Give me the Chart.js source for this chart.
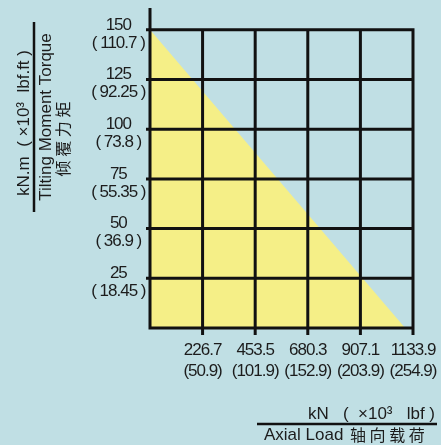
<!DOCTYPE html>
<html>
<head>
<meta charset="utf-8">
<script src="https://cdn.jsdelivr.net/npm/chart.js@4"></script>
<style>
  html, body { margin: 0; padding: 0; background: #c0dfe4; }
  #wrap { width: 441px; height: 445px; }
</style>
</head>
<body>
<div id="wrap"><canvas id="chart" width="441" height="445"></canvas></div>
<script>
// Axial load ticks (kN) with the lbf equivalents underneath
const loadTicks = [226.7, 453.5, 680.3, 907.1, 1133.9];
const loadTicksLbf = ['(50.9)', '(101.9)', '(152.9)', '(203.9)', '(254.9)'];
// Tilting moment ticks (kN.m) with lbf.ft equivalents
const momentTicks = [25, 50, 75, 100, 125, 150];
const momentTicksLbf = ['( 18.45 )', '( 36.9 )', '( 55.35 )', '( 73.8 )', '( 92.25 )', '( 110.7 )'];
// Load limit line (the yellow area is under it)
const curveLoad = [0, 1100];
const curveMoment = [150, 0];

const TEXT = '#1c1c1c';
const tickFont = { family: "'Liberation Sans', sans-serif", size: 17 };

// tick labels in the original are narrower, tighten them a bit
const tightTicks = {
  id: 'tightTicks',
  beforeDraw(chart) { chart.ctx.letterSpacing = '-1px'; },
  beforeDatasetsDraw(chart) { chart.ctx.letterSpacing = '0px'; }
};

// grid drawn by hand so the vertical lines stop at 150
const gridPlugin = {
  id: 'gridLines',
  afterDatasetsDraw(chart) {
    const { ctx, chartArea, scales: { x, y } } = chart;
    const x0 = x.getPixelForValue(0), x1 = x.getPixelForValue(x.max);
    const y0 = y.getPixelForValue(0);
    const yTop = y.getPixelForValue(momentTicks[momentTicks.length - 1]);
    ctx.save();
    ctx.strokeStyle = '#111';
    ctx.lineWidth = 3;
    ctx.beginPath();
    loadTicks.forEach(v => {
      const px = x.getPixelForValue(v);
      ctx.moveTo(px, y0 + 7);
      ctx.lineTo(px, yTop - 1.5);
    });
    momentTicks.forEach(v => {
      const py = y.getPixelForValue(v);
      ctx.moveTo(x0 - 4, py);
      ctx.lineTo(x1 + 1.5, py);
    });
    ctx.moveTo(x0, chartArea.top);
    ctx.lineTo(x0, y0 + 1.5);
    ctx.moveTo(x0 - 1.5, y0);
    ctx.lineTo(x1 + 1.5, y0);
    ctx.stroke();
    ctx.restore();
  }
};

// axis titles with the underline between unit and name
const titlePlugin = {
  id: 'axisTitles',
  afterDraw(chart) {
    const { ctx } = chart;
    ctx.save();
    ctx.letterSpacing = '0px';
    ctx.fillStyle = TEXT;
    ctx.strokeStyle = '#111';
    ctx.textAlign = 'center';
    ctx.textBaseline = 'middle';

    // y title (rotated)
    ctx.translate(0, 117);
    ctx.rotate(-Math.PI / 2);
    ctx.font = "17px 'Liberation Sans', sans-serif";
    ctx.fillText('kN.m  ( ×10³  lbf.ft )', -6, 24);
    ctx.lineWidth = 2.5;
    ctx.beginPath();
    ctx.moveTo(-95, 34);
    ctx.lineTo(95, 34);
    ctx.stroke();
    ctx.fillText('Tilting Moment Torque', 0, 46);
    ctx.font = "16px 'Noto Sans CJK SC', sans-serif";
    ctx.fillText('倾 覆 力 矩', -22, 63);
    ctx.restore();

    // x title
    ctx.save();
    ctx.letterSpacing = '0px';
    ctx.fillStyle = TEXT;
    ctx.strokeStyle = '#111';
    ctx.textBaseline = 'middle';
    ctx.textAlign = 'right';
    ctx.font = "17px 'Liberation Sans', sans-serif";
    ctx.fillText('kN   (  ×10³   lbf )', 435, 414);
    ctx.lineWidth = 2.5;
    ctx.beginPath();
    ctx.moveTo(257, 424);
    ctx.lineTo(437, 424);
    ctx.stroke();
    ctx.textAlign = 'left';
    ctx.fillText('Axial Load', 264, 435);
    ctx.font = "16px 'Noto Sans CJK SC', sans-serif";
    ctx.fillText('轴 向 载 荷', 350, 435);
    ctx.restore();
  }
};

new Chart(document.getElementById('chart'), {
  type: 'line',
  data: {
    datasets: [{
      data: curveLoad.map((v, i) => ({ x: v, y: curveMoment[i] })),
      fill: 'origin',
      backgroundColor: '#f5ef87',
      borderColor: 'rgba(0,0,0,0)',
      borderWidth: 0,
      pointRadius: 0
    }]
  },
  options: {
    responsive: false,
    animation: false,
    layout: { autoPadding: false, padding: { top: 8, right: 28, left: 0, bottom: 0 } },
    plugins: { legend: { display: false }, tooltip: { enabled: false } },
    scales: {
      x: {
        type: 'linear',
        min: 0,
        max: 1133.9,
        grid: { display: false, drawTicks: false },
        border: { display: false },
        afterBuildTicks: s => { s.ticks = loadTicks.map(v => ({ value: v })); },
        afterFit: s => {
          s.height = 117;
          s.paddingLeft = 0; s.paddingRight = 0;
        },
        ticks: {
          autoSkip: false,
          maxRotation: 0,
          padding: 12,
          color: TEXT,
          font: { ...tickFont, lineHeight: 1.24 },
          callback: (v, i) => [String(loadTicks[i]), loadTicksLbf[i]]
        }
      },
      y: {
        min: 0,
        max: 161,
        grid: { display: false, drawTicks: false },
        border: { display: false },
        afterBuildTicks: s => { s.ticks = momentTicks.map(v => ({ value: v })); },
        afterFit: s => {
          s.width = 150;
          s.paddingTop = 0; s.paddingBottom = 0;
        },
        ticks: {
          crossAlign: 'center',
          padding: 0,
          labelOffset: 4,
          color: TEXT,
          font: { ...tickFont, lineHeight: 1.06 },
          callback: (v, i) => [String(momentTicks[i]), momentTicksLbf[i]]
        }
      }
    }
  },
  plugins: [tightTicks, gridPlugin, titlePlugin]
});
</script>
</body>
</html>
